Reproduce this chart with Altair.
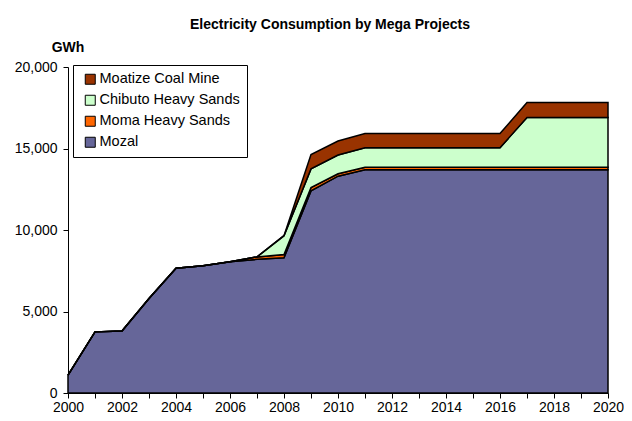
import altair as alt
import pandas as pd

years = list(range(2000, 2021))
mozal = [1100, 3750, 3800, 5800, 7650, 7800, 8050, 8200, 8300, 12400, 13300,
         13700, 13700, 13700, 13700, 13700, 13700, 13700, 13700, 13700, 13700]
moma = [0, 0, 0, 0, 0, 0, 0, 150, 200, 200, 150,
        150, 150, 150, 150, 150, 150, 150, 150, 150, 150]
chibuto = [0, 0, 0, 0, 0, 0, 0, 0, 1150, 1150, 1150,
           1200, 1200, 1200, 1200, 1200, 1200, 3050, 3050, 3050, 3050]
moatize = [0, 0, 0, 0, 0, 0, 0, 0, 0, 880, 860,
           870, 870, 870, 870, 870, 870, 920, 920, 920, 920]

series = ["Mozal", "Moma Heavy Sands", "Chibuto Heavy Sands", "Moatize Coal Mine"]
legend_order = ["Moatize Coal Mine", "Chibuto Heavy Sands", "Moma Heavy Sands", "Mozal"]
legend_colors = ["#993300", "#CCFFCC", "#FF6600", "#666699"]
y_ticks = [0, 5000, 10000, 15000, 20000]
title_text = "Electricity Consumption by Mega Projects"
unit_text = "GWh"

rows = []
for i, (name, vals) in enumerate(zip(series, [mozal, moma, chibuto, moatize])):
    for y, v in zip(years, vals):
        rows.append({"year": y, "value": v, "project": name, "ord": i})
df = pd.DataFrame(rows)

FONT = "Liberation Sans"

area = alt.Chart(df).mark_area(stroke="black", strokeWidth=1.5, opacity=1).encode(
    x=alt.X("year:Q", scale=alt.Scale(domain=[2000, 2020], nice=False, zero=False),
            axis=alt.Axis(title=None, values=years, format="d",
                          labelExpr="datum.value % 2 == 0 ? datum.label : ''",
                          labelFlush=False, labelOverlap=False,
                          grid=False, domainColor="black", tickColor="black",
                          tickSize=5, labelFontSize=14, labelColor="black",
                          labelFont=FONT, labelPadding=2)),
    y=alt.Y("value:Q", stack="zero", scale=alt.Scale(domain=[0, 20000], nice=False),
            axis=alt.Axis(title=None, values=y_ticks, format=",.0f",
                          grid=False, domainColor="black", tickColor="black",
                          tickSize=5, labelFontSize=14, labelColor="black",
                          labelFont=FONT, labelPadding=6)),
    color=alt.Color("project:N", sort=legend_order,
                    scale=alt.Scale(domain=legend_order, range=legend_colors),
                    legend=alt.Legend(title=None, orient="none", legendX=5, legendY=-2,
                                      symbolType="square", symbolSize=100,
                                      symbolStrokeColor="black", symbolStrokeWidth=1,
                                      symbolOpacity=1, symbolOffset=3, labelOffset=2,
                                      labelFontSize=14.5, labelFont=FONT, labelColor="black",
                                      strokeColor="black", padding=7, rowPadding=5,
                                      fillColor="white", labelLimit=300)),
    order=alt.Order("ord:Q"),
)

gwh = alt.Chart(pd.DataFrame({"t": [unit_text]})).mark_text(
    font=FONT, fontSize=14, fontWeight="bold", color="black", align="center", baseline="middle"
).encode(x=alt.value(0), y=alt.value(-19), text="t:N")

title = alt.Chart(pd.DataFrame({"t": [title_text]})).mark_text(
    font=FONT, fontSize=14, fontWeight="bold", color="black", align="center", baseline="middle"
).encode(x=alt.value(262), y=alt.value(-42), text="t:N")

chart = alt.layer(area, gwh, title).properties(
    width=540, height=326,
    padding={"left": 60, "top": 59, "right": 16, "bottom": 20},
    autosize="none",
).configure_view(stroke=None)

chart.save("out.html", embed_options={"renderer": "svg", "actions": False})
